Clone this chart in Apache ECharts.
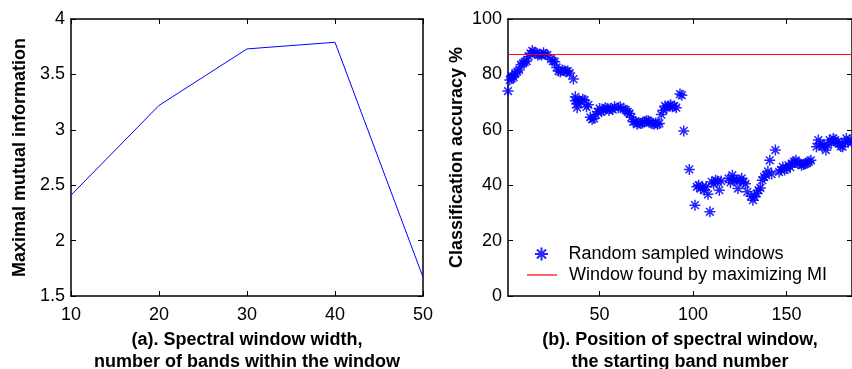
<!DOCTYPE html>
<html>
<head>
<meta charset="utf-8">
<script src="https://cdn.jsdelivr.net/npm/echarts@6/dist/echarts.min.js"></script>
<style>
  html, body { margin: 0; padding: 0; background: #fff; }
  #chart { width: 852px; height: 369px; }
</style>
</head>
<body>
<div id="chart"></div>
<script>
// (a) window width vs maximal MI
const windowWidths = [10, 20, 30, 40, 50];
const maxMutualInfo = [2.41, 3.22, 3.73, 3.79, 1.67];

// (b) random sampled windows: starting band, accuracy %
const bandStart = [
  1, 2, 3, 3, 4, 5, 6, 7, 8, 9, 10, 11, 12, 13, 14, 15, 16, 17, 18, 19, 20, 21, 22, 24, 25, 26, 27, 28, 29, 30, 31, 32, 33, 34, 36,
  37, 37, 38, 38, 39, 40, 41, 42, 43, 44, 45, 46, 47, 48, 49, 50, 51, 52, 53, 54, 55, 56, 57, 58, 60, 61, 63, 64, 65, 66, 67, 68, 69,
  70, 71, 72, 73, 74, 75, 76, 77, 78, 79, 80, 81, 82, 83, 84, 85, 86, 87, 88, 89, 90, 91, 93, 94, 95, 98,
  101, 102, 103, 104, 105, 106, 107, 108, 109, 110, 111, 112, 113, 114, 115, 119, 120, 121, 122, 123, 124, 125, 126, 127, 128, 129,
  131, 132, 133, 134, 135, 136, 137, 138, 139, 140, 141, 142, 144,
  146, 147, 148, 149, 150, 151, 152, 153, 154, 155, 156, 157, 158, 159, 160, 161, 162, 163, 166, 167, 168, 169, 170, 171, 172, 173,
  174, 175, 176, 177, 178, 179, 180, 181, 182, 183, 184, 185
];
const accuracy = [
  74, 78, 78.5, 79.5, 79, 80.5, 81, 81.6, 83.5, 84, 84.5, 84.8, 86.5, 87.6, 88.5, 88, 87.6, 87, 87.3, 87, 87.8, 87.2, 87, 85.5, 84.8, 84.6, 82.5, 81.2, 81, 81.6, 81.3, 81, 81.2, 80.5, 78.3,
  71.9, 70.5, 69.5, 68, 70.7, 70.1, 71, 70.7, 68.3, 69, 64.5, 63.8, 64.1, 65.5, 66.5, 67.7, 66.5, 67.1, 68, 67.7, 67, 67.7, 67.3, 68.3, 68, 68.3, 67.5, 67.1, 66.5, 65.9, 64.5, 62.9, 63,
  62, 62.5, 62.3, 62.5, 62.9, 63.3, 63.3, 62.8, 62.3, 62, 62.5, 62, 62.3, 65.5, 67.1, 68.6, 68, 68.6, 69, 68.3, 68.6, 68, 72.9, 72.5, 59.6, 45.7,
  32.8, 39.4, 40, 38.8, 39.4, 38.2, 39.5, 36.7, 30.4, 41.2, 40.5, 41.8, 41.5, 38.2, 41.5, 42.4, 41, 43.6, 42, 41.8, 38.8, 41.8, 42.5, 41.2, 40.5, 37.6,
  36, 34.6, 35.8, 37, 38.2, 39, 41.8, 43, 43.6, 45, 49, 44, 52.7,
  44.8, 45.5, 46.6, 45.5, 46, 47.2, 46.5, 47.8, 48.5, 49, 48, 47.8, 47.2, 47.5, 47.8, 48, 48.5, 49, 53.9, 56.3, 55, 53.9, 54.5, 52.7, 54.5, 56.3,
  55.5, 56.9, 56.3, 55.5, 55, 54, 53.9, 55.7, 56.9, 55.5, 56.3, 55.5
];
const miWindowAccuracy = 87.2;
const bandMin = 1;
const bandMax = 185;
const bandTicks = [50, 100, 150];

const FONT = "Liberation Sans";
const starPath = "path://M0,-5L0,5M-5,0L5,0M-3.5,-3.5L3.5,3.5M-3.5,3.5L3.5,-3.5";

const chart = echarts.init(document.getElementById("chart"));

const labelStyle = { color: "#000", fontSize: 18, fontFamily: FONT };
const nameStyle = { color: "#000", fontSize: 18, fontWeight: "bold", fontFamily: FONT, lineHeight: 22 };
const axisLine = { show: true, onZero: false, lineStyle: { color: "#000", width: 1.5 } };
const tickIn = { show: true, inside: true, length: 5, lineStyle: { color: "#000", width: 1 } };

// box axes on top / right, ticks only
const mirrorAxis = (gridIndex, pos, extra) => Object.assign({
  gridIndex,
  type: "value",
  position: pos,
  axisLine,
  axisTick: tickIn,
  axisLabel: { show: false },
  splitLine: { show: false },
}, extra);

const legendText = { color: "#000", fontSize: 18, fontFamily: FONT, padding: [0, 0, 0, 7] };

const option = {
  animation: false,
  grid: [
    { left: 71, right: 429, top: 19, bottom: 73, outerBoundsMode: "none" },
    { left: 508, right: 0, top: 19, bottom: 73, outerBoundsMode: "none" },
  ],
  xAxis: [
    {
      gridIndex: 0, type: "value", min: 10, max: 50, interval: 10,
      axisLine, axisTick: tickIn, splitLine: { show: false },
      axisLabel: Object.assign({ margin: 10 }, labelStyle),
      name: "(a). Spectral window width,\nnumber of bands within the window",
      nameLocation: "middle", nameGap: 33, nameTextStyle: nameStyle,
    },
    mirrorAxis(0, "top", { min: 10, max: 50, interval: 10 }),
    {
      gridIndex: 1, type: "value", min: bandMin, max: bandMax,
      axisLine,
      axisTick: Object.assign({ customValues: bandTicks }, tickIn),
      splitLine: { show: false },
      axisLabel: Object.assign({ margin: 10, customValues: bandTicks }, labelStyle),
      name: "(b). Position of spectral window,\nthe starting band number",
      nameLocation: "middle", nameGap: 33, nameTextStyle: nameStyle,
    },
    mirrorAxis(1, "top", { min: bandMin, max: bandMax, axisTick: Object.assign({ customValues: bandTicks }, tickIn) }),
  ],
  yAxis: [
    {
      gridIndex: 0, type: "value", min: 1.5, max: 4, interval: 0.5,
      axisLine, axisTick: tickIn, splitLine: { show: false },
      axisLabel: Object.assign({ margin: 6 }, labelStyle),
      name: "Maximal mutual information",
      nameLocation: "middle", nameGap: 40, nameTextStyle: nameStyle,
    },
    mirrorAxis(0, "right", { min: 1.5, max: 4, interval: 0.5 }),
    {
      gridIndex: 1, type: "value", min: 0, max: 100, interval: 20,
      axisLine, axisTick: tickIn, splitLine: { show: false },
      axisLabel: Object.assign({ margin: 6 }, labelStyle),
      name: "Classification accuracy %",
      nameLocation: "middle", nameGap: 30, nameTextStyle: nameStyle,
    },
    mirrorAxis(1, "right", { min: 0, max: 100, interval: 20 }),
  ],
  legend: [
    {
      left: 534, top: 245, padding: 0,
      itemWidth: 30, itemHeight: 13,
      textStyle: legendText,
      data: ["Random sampled windows"],
    },
    {
      left: 527, top: 266, padding: 0,
      itemWidth: 30, itemHeight: 1.2, icon: "rect",
      textStyle: legendText,
      data: ["Window found by maximizing MI"],
    },
  ],
  series: [
    {
      type: "line", xAxisIndex: 0, yAxisIndex: 0,
      data: windowWidths.map((w, i) => [w, maxMutualInfo[i]]),
      symbol: "none",
      lineStyle: { color: "#0000ff", width: 1 },
    },
    {
      name: "Random sampled windows",
      type: "scatter", xAxisIndex: 2, yAxisIndex: 2,
      data: bandStart.map((b, i) => [b, accuracy[i]]),
      symbol: starPath, symbolSize: 11, symbolKeepAspect: true,
      itemStyle: { color: "transparent", borderColor: "#0000ff", borderWidth: 1.5, opacity: 0.85 },
    },
    {
      name: "Window found by maximizing MI",
      type: "line", xAxisIndex: 2, yAxisIndex: 2,
      data: [[bandMin, miWindowAccuracy], [bandMax, miWindowAccuracy]],
      symbol: "none",
      lineStyle: { color: "#ff0000", width: 1 },
      itemStyle: { color: "#ff0000" },
    },
  ],
};

chart.setOption(option);
</script>
</body>
</html>
